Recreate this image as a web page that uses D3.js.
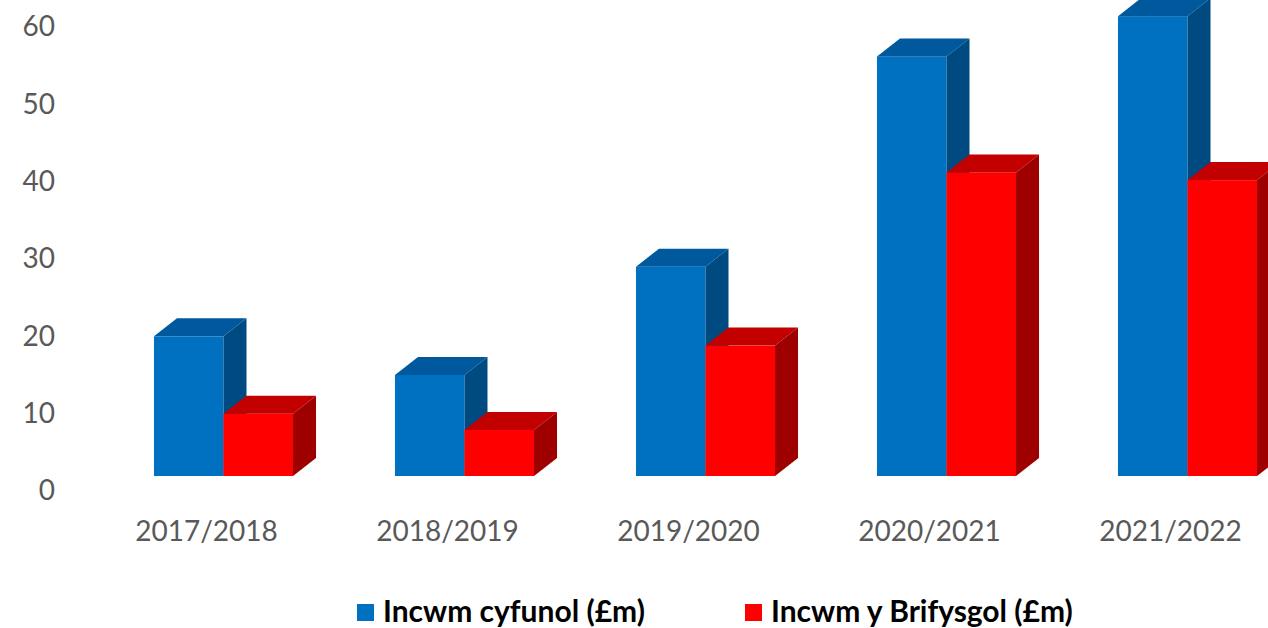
<!DOCTYPE html>
<html>

<head>
  <meta charset="utf-8">
  <title>Incwm</title>
  <script src="https://d3js.org/d3.v7.min.js"></script>
  <style>
    body { margin: 0; background: #fff; }
    svg text { font-family: Lato, "Open Sans", sans-serif; }
  </style>
</head>

<body>
  <div id="chart"></div>
  <script>
    // data
    var years = ["2017/2018", "2018/2019", "2019/2020", "2020/2021", "2021/2022"];
    var series = ["Incwm cyfunol (£m)", "Incwm y Brifysgol (£m)"];
    var combined = [20, 15, 29, 56.2, 61.4];
    var university = [10, 7.9, 18.8, 41.2, 40.2];
    var yTicks = [0, 10, 20, 30, 40, 50, 60];

    var width = 1268, height = 628;

    var svg = d3.select("#chart")
      .append("svg")
      .attr("width", width)
      .attr("height", height);

    // scales
    var xScale = d3.scaleBand()
      .domain(years)
      .range([103, 1308])
      .paddingInner(0.423)
      .paddingOuter(0.2115);

    var yScale = d3.scaleLinear()
      .domain([0, 60])
      .range([491, 27]);

    var colors = [
      { front: "#0070C0", top: "#00599C", side: "#004A82" },
      { front: "#FF0000", top: "#C30000", side: "#9E0000" }
    ];

    // 3d look
    var floorY = 476;
    var dx = 23, dy = 18;
    var barW = xScale.bandwidth() / 2;

    // y axis (labels only)
    var yAxis = d3.axisLeft(yScale).tickValues(yTicks).tickSize(0).tickPadding(8);
    svg.append("g")
      .attr("transform", "translate(63,0)")
      .call(yAxis)
      .call(function (g) { g.select(".domain").remove(); })
      .selectAll("text")
      .style("font-family", "Lato, sans-serif")
      .style("font-size", "28px")
      .attr("fill", "#595959");

    // bars
    years.forEach(function (yr, i) {
      var vals = [combined[i], university[i]];
      vals.forEach(function (v, s) {
        var x = xScale(yr) + s * barW;
        var yt = yScale(v);
        var c = colors[s];
        var g = svg.append("g").attr("class", "bar");

        g.append("rect")
          .attr("x", x)
          .attr("y", yt)
          .attr("width", barW)
          .attr("height", floorY - yt)
          .attr("fill", c.front);

        g.append("polygon")
          .attr("points", [[x, yt], [x + dx, yt - dy], [x + barW + dx, yt - dy], [x + barW, yt]].join(" "))
          .attr("fill", c.top);

        g.append("polygon")
          .attr("points", [[x + barW, yt], [x + barW + dx, yt - dy], [x + barW + dx, floorY - dy], [x + barW, floorY]].join(" "))
          .attr("fill", c.side);
      });
    });

    // x axis labels
    svg.selectAll(".x-label")
      .data(years)
      .join("text")
      .attr("class", "x-label")
      .attr("x", function (d) { return xScale(d) + xScale.bandwidth() / 2 - 17; })
      .attr("y", 541)
      .attr("text-anchor", "middle")
      .style("font-size", "28px")
      .attr("fill", "#595959")
      .text(function (d) { return d; });

    // legend
    var legendX = [357, 745];
    var legend = svg.selectAll(".legend")
      .data(series)
      .join("g")
      .attr("class", "legend")
      .attr("transform", function (d, i) { return "translate(" + legendX[i] + ",604)"; });

    legend.append("rect")
      .attr("width", 17)
      .attr("height", 17)
      .attr("fill", function (d, i) { return colors[i].front; });

    legend.append("text")
      .attr("x", 26)
      .attr("y", 18)
      .style("font-size", "30px")
      .style("font-weight", "bold")
      .attr("fill", "#000")
      .text(function (d) { return d; });
  </script>
</body>
</html>
